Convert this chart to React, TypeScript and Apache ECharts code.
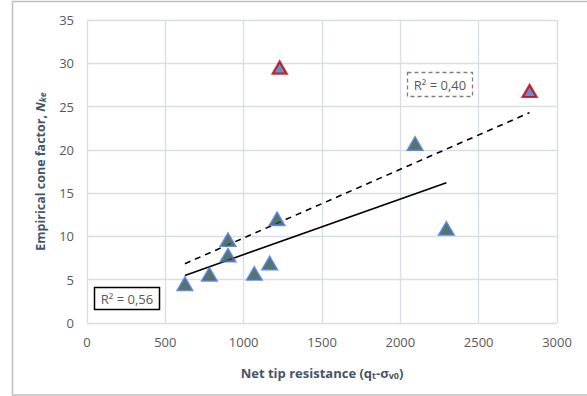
import React, { useEffect, useRef } from "react";
import * as echarts from "echarts";

const xTicks = [0, 500, 1000, 1500, 2000, 2500, 3000];
const yTicks = [0, 5, 10, 15, 20, 25, 30, 35];

// Main data points (x: net tip resistance, y: Nke)
const mainX = [625, 781, 900, 900, 1068, 1166, 1213, 2094, 2294];
const mainY = [4.5, 5.6, 9.6, 7.8, 5.7, 6.9, 12.0, 20.7, 10.9];

// Outliers (red outlined)
const outX = [1230, 2825];
const outY = [29.5, 26.8];

// Trend lines (endpoints)
const solidTrendX = [625, 2294];
const solidTrendY = [5.5, 16.2];
const dashTrendX = [625, 2825];
const dashTrendY = [6.85, 24.3];

const r2Solid = "R² = 0,56";
const r2Dash = "R² = 0,40";

const zip = (a: number[], b: number[]) => a.map((v, i) => [v, b[i]]);

export default function App() {
  const ref = useRef<HTMLDivElement>(null);
  useEffect(() => {
    document.body.style.margin = "0";
    const chart = echarts.init(ref.current!, null, { renderer: "svg" });
    const font = "'Open Sans', 'Noto Sans', sans-serif";
    const tickColor = "#595959";
    const titleColor = "#44546A";
    chart.setOption({
      animation: false,
      backgroundColor: "#ffffff",
      grid: { left: 87, right: 30, top: 20, bottom: 73, containLabel: false },
      xAxis: {
        type: "value",
        min: xTicks[0],
        max: xTicks[xTicks.length - 1],
        interval: 500,
        axisLine: { show: false },
        axisTick: { show: false },
        splitLine: { show: true, lineStyle: { color: "#D9DEE6", width: 1.3 } },
        axisLabel: {
          color: tickColor,
          fontSize: 13,
          fontFamily: font,
          margin: 12,
          formatter: (v: number) => String(v),
        },
        name: "{b|Net tip resistance (q}{sub|t}{b|-σ}{sub|v0}{b|)}",
        nameLocation: "middle",
        nameGap: 42,
        nameTextStyle: {
          rich: {
            b: { fontWeight: "bold", fontSize: 13, color: titleColor, fontFamily: font },
            sub: { fontWeight: "bold", fontSize: 9, color: titleColor, fontFamily: font, padding: [6, 0, 0, 0] },
          },
        },
      },
      yAxis: {
        type: "value",
        min: yTicks[0],
        max: yTicks[yTicks.length - 1],
        interval: 5,
        axisLine: { show: false },
        axisTick: { show: false },
        splitLine: { show: true, lineStyle: { color: "#D9DEE6", width: 1.3 } },
        axisLabel: {
          color: tickColor,
          fontSize: 13,
          fontFamily: font,
          margin: 13,
          formatter: (v: number) => String(v),
        },
        name: "{b|Empirical cone factor, }{i|N}{isub|ke}",
        nameLocation: "middle",
        nameGap: 40,
        nameTextStyle: {
          rich: {
            b: { fontWeight: "bold", fontSize: 12.5, color: titleColor, fontFamily: font },
            i: { fontWeight: "bold", fontStyle: "italic", fontSize: 12.5, color: titleColor, fontFamily: font },
            isub: { fontWeight: "bold", fontStyle: "italic", fontSize: 9, color: titleColor, fontFamily: font, padding: [5, 0, 0, 0] },
          },
        },
      },
      series: [
        {
          type: "line",
          data: zip(dashTrendX, dashTrendY),
          showSymbol: false,
          symbol: "none",
          lineStyle: { color: "#000000", width: 1.6, type: [6, 5] },
          z: 2,
        },
        {
          type: "line",
          data: zip(solidTrendX, solidTrendY),
          showSymbol: false,
          symbol: "none",
          lineStyle: { color: "#000000", width: 1.6 },
          z: 2,
        },
        {
          type: "scatter",
          data: zip(mainX, mainY),
          symbol: "triangle",
          symbolSize: [14, 12],
          itemStyle: { color: "#2F5233", borderColor: "#4472C4", borderWidth: 2.4 },
          z: 3,
        },
        {
          type: "scatter",
          data: zip(outX, outY),
          symbol: "triangle",
          symbolSize: [14, 12],
          itemStyle: { color: "#4472C4", borderColor: "#C00000", borderWidth: 2.2 },
          z: 3,
        },
      ],
      graphic: [
        {
          type: "rect",
          shape: { x: 12.5, y: 1.5, width: 600, height: 393.5 },
          style: { fill: "none", stroke: "#BFBFBF", lineWidth: 1.5 },
          silent: true,
          z: -10,
        },
        {
          type: "rect",
          shape: { x: 94.5, y: 287.5, width: 65, height: 22 },
          style: { fill: "#ffffff", stroke: "#000000", lineWidth: 1.5 },
          z: 10,
        },
        {
          type: "text",
          x: 127,
          y: 298.5,
          style: {
            text: r2Solid,
            fill: tickColor,
            fontSize: 13,
            fontFamily: font,
            align: "center",
            verticalAlign: "middle",
          },
          z: 11,
        },
        {
          type: "rect",
          shape: { x: 407.5, y: 72.5, width: 65, height: 24 },
          style: { fill: "#ffffff", stroke: "#808080", lineWidth: 1.3, lineDash: [4, 3] },
          z: 10,
        },
        {
          type: "text",
          x: 440,
          y: 84.5,
          style: {
            text: r2Dash,
            fill: tickColor,
            fontSize: 13,
            fontFamily: font,
            align: "center",
            verticalAlign: "middle",
          },
          z: 11,
        },
      ],
    });
    return () => chart.dispose();
  }, []);
  return <div ref={ref} style={{ width: 587, height: 396 }} />;
}
